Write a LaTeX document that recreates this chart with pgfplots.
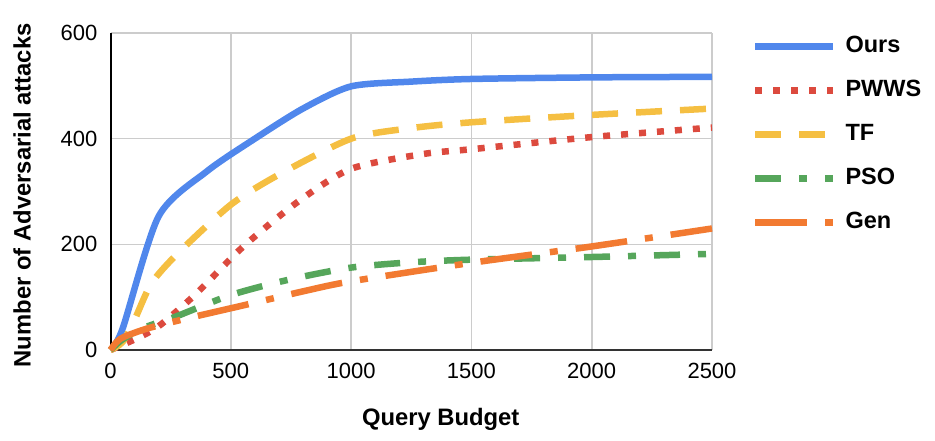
\documentclass[border=0pt]{standalone}
\usepackage{fontspec}
\setmainfont{Liberation Sans}
\usepackage{pgfplots}
\pgfplotsset{compat=1.18}
\definecolor{cOurs}{HTML}{5087EC}
\definecolor{cPWWS}{HTML}{DC4A3E}
\definecolor{cTF}{HTML}{F5BF42}
\definecolor{cPSO}{HTML}{56A65B}
\definecolor{cGen}{HTML}{F27A31}
\definecolor{gridgray}{HTML}{CCCCCC}
\begin{document}
\begin{tikzpicture}[x=1pt,y=1pt]
\useasboundingbox (0,0) rectangle (935,440);
\begin{axis}[
  at={(110.5pt,90pt)}, anchor=south west,
  scale only axis, width=601.5pt, height=317pt,
  xmin=0, xmax=2500, ymin=0, ymax=600,
  xtick={0,500,1000,1500,2000,2500}, ytick={0,200,400,600},
  grid=major, major grid style={color=gridgray, line width=1.6pt},
  axis x line*=bottom, axis y line*=left,
  x axis line style={color=black!80, line width=2pt},
  y axis line style={color=black, line width=2pt},
  major tick length=0pt, tick style={draw=none},
  /pgf/number format/assume math mode=true,
  /pgf/number format/1000 sep={},
  ticklabel style={font=\fontsize{22}{26}\selectfont},
  yticklabel style={anchor=east, inner sep=0pt, xshift=-13pt},
  xticklabel style={anchor=north, inner sep=0pt, yshift=-13pt},
  xlabel={Query Budget}, ylabel={Number of Adversarial attacks},
  label style={font=\bfseries\fontsize{23.8}{28}\selectfont},
  xlabel style={at={(axis description cs:0.549,-0.237)}, anchor=base},
  ylabel style={at={(axis description cs:-0.147,0.488)}, anchor=center},
  clip=false,
  legend cell align=left,
  legend image code/.code={\draw[#1, line cap=butt] (0pt,0pt) -- (78pt,0pt);},
  legend style={draw=none, fill=none, at={(axis description cs:1.0665,0.9925)}, anchor=north west,
    inner sep=0pt, outer sep=0pt, row sep=22pt,
    font=\bfseries\fontsize{23.5}{28}\selectfont,
    nodes={inner sep=0pt, text height=17pt, text depth=5pt},
    /tikz/every odd column/.append style={column sep=9pt}},
]
\addplot[cOurs, line width=6.5pt, smooth, tension=0.45, line join=round] coordinates {
 (0,0) (50,40) (200,253) (400,338) (600,400) (800,457) (1000,499) (1250,508) (1500,513) (2000,516) (2500,517)};
\addlegendentry{Ours}
\addplot[cPWWS, line width=6.5pt, smooth, tension=0.45, dash pattern=on 7pt off 11pt] coordinates {
 (0,0) (100,20) (200,45) (350,104) (550,195) (780,281) (1000,343) (1300,371) (1500,380) (2000,403) (2500,421)};
\addlegendentry{PWWS}
\addplot[cTF, line width=6.5pt, smooth, tension=0.45, dash pattern=on 26pt off 18pt] coordinates {
 (0,0) (50,15) (100,57) (170,126) (280,183) (500,275) (700,332) (1000,400) (1250,420) (1500,431) (2000,445) (2500,457)};
\addlegendentry{TF}
\addplot[cPSO, line width=6.5pt, smooth, tension=0.45, dash pattern=on 26pt off 18pt on 8pt off 18pt] coordinates {
 (0,0) (50,20) (150,44) (270,63) (500,104) (740,133) (1000,156) (1250,166) (1500,171) (2000,176) (2500,182)};
\addlegendentry{PSO}
\addplot[cGen, line width=6.5pt, smooth, tension=0.45, dash pattern=on 52pt off 18pt on 8pt off 18pt] coordinates {
 (0,0) (25,15) (57,25) (155,41) (320,60) (557,85) (800,111) (1000,130) (1500,165) (2000,196) (2500,230)};
\addlegendentry{Gen}
\end{axis}
\end{tikzpicture}
\end{document}
